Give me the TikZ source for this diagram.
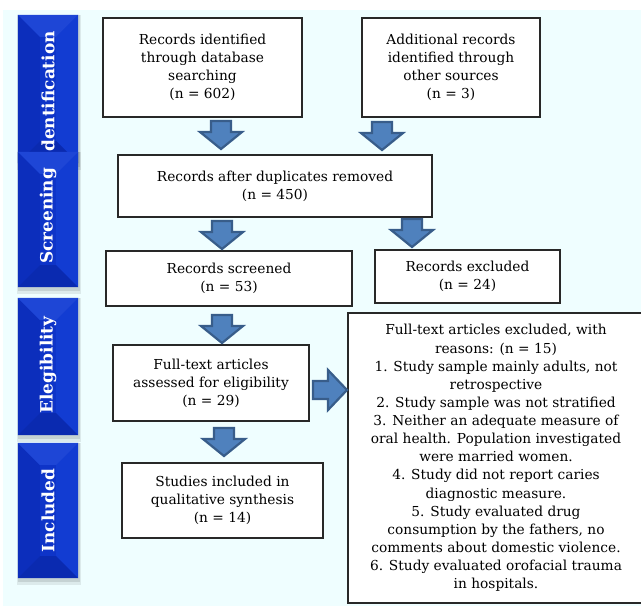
\documentclass[tikz,border=0pt]{standalone}
\usepackage{fontspec}
\setmainfont{DejaVu Serif}
\usetikzlibrary{calc}
\definecolor{bgcol}{RGB}{239,254,255}
\definecolor{phbase}{RGB}{14,52,200}
\definecolor{phtop}{RGB}{30,70,214}
\definecolor{phleft}{RGB}{12,46,188}
\definecolor{phright}{RGB}{18,60,210}
\definecolor{phbot}{RGB}{10,42,176}
\definecolor{arrfill}{RGB}{79,129,189}
\definecolor{arrline}{RGB}{56,93,138}
\definecolor{boxline}{RGB}{40,40,40}
\newcommand\boxfont{\fontsize{13.8}{18.2}\selectfont}
\newcommand\phasefont{\fontsize{17}{19}\selectfont\bfseries}
\newcommand\bevelbox[1]{%
  \fill[black,opacity=0.08] ([xshift=-1bp,yshift=-7bp]#1.south west) rectangle ([xshift=3bp]#1.north east);
  \fill[black,opacity=0.10] ([yshift=-4bp]#1.south west) rectangle ([xshift=2bp]#1.north east);
  \fill[phbase] (#1.south west) rectangle (#1.north east);
  \fill[phleft] (#1.north west) -- ([xshift=22bp,yshift=-22bp]#1.north west) -- ([xshift=22bp,yshift=22bp]#1.south west) -- (#1.south west) -- cycle;
  \fill[phright] (#1.north east) -- ([xshift=-22bp,yshift=-22bp]#1.north east) -- ([xshift=-22bp,yshift=22bp]#1.south east) -- (#1.south east) -- cycle;
  \fill[phtop] (#1.north west) -- (#1.north east) -- ([xshift=-22bp,yshift=-22bp]#1.north east) -- ([xshift=22bp,yshift=-22bp]#1.north west) -- cycle;
  \fill[phbot] (#1.south west) -- (#1.south east) -- ([xshift=-22bp,yshift=22bp]#1.south east) -- ([xshift=22bp,yshift=22bp]#1.south west) -- cycle;
}
\tikzset{
  phase/.style={rectangle, minimum width=60bp, inner sep=0pt, draw=none},
  phasetxt/.style={text=white, font=\phasefont, rotate=90, inner sep=0pt},
  box/.style={draw=boxline, line width=1.2bp, fill=white, align=center, font=\boxfont, inner sep=0pt},
  blockarrow/.style={fill=arrfill, draw=arrline, line width=2.2bp, line join=miter},
  darr/.pic={\path[blockarrow] (-10,0) -- (10,0) -- (10,11) -- (21,11) -- (0,28) -- (-21,11) -- (-10,11) -- cycle;},
  rarr/.pic={\path[blockarrow] (0,-9) -- (15,-9) -- (15,-20) -- (34,0) -- (15,20) -- (15,9) -- (0,9) -- cycle;}
}
\begin{document}
\begin{tikzpicture}[x=1bp,y=-1bp]
\useasboundingbox (0,0) rectangle (641,606);
\fill[bgcol] (3,10) rectangle (641,606);

% phase labels
\node[phase, minimum height=148bp] (ident) at (48,89) {};
\bevelbox{ident}
\node[phasetxt, anchor=west] (identtxt) at (48,152) {dentification};
\node[phase, minimum height=135bp] (screen) at (48,219.5) {};
\bevelbox{screen}
\node[phasetxt] (screentxt) at (48,216) {Screening};
\node[phase, minimum height=137bp] (elig) at (48,366.5) {};
\bevelbox{elig}
\node[phasetxt] (eligtxt) at (48,365) {Elegibility};
\node[phase, minimum height=135bp] (incl) at (48,510.5) {};
\bevelbox{incl}
\node[phasetxt] (incltxt) at (48,510.5) {Included};

% boxes
\node[box, minimum width=199bp, minimum height=99bp] (A) at (202.5,67.5)
  {Records identified\\through database\\searching\\(n = 602)};
\node[box, minimum width=178bp, minimum height=99bp] (B) at (451,67.5)
  {Additional records\\identified through\\other sources\\(n = 3)};
\node[box, minimum width=314bp, minimum height=62bp] (C) at (275,186)
  {Records after duplicates removed\\(n = 450)};
\node[box, minimum width=246bp, minimum height=55bp] (D) at (229,278.5)
  {Records screened\\(n = 53)};
\node[box, minimum width=185bp, minimum height=53bp] (E) at (467.5,276.5)
  {Records excluded\\(n = 24)};
\node[box, minimum width=196bp, minimum height=76bp] (F) at (211,383)
  {Full-text articles\\assessed for eligibility\\(n = 29)};
\node[box, minimum width=201bp, minimum height=75bp] (G) at (222.5,500.5)
  {Studies included in\\qualitative synthesis\\(n = 14)};
\node[box, minimum width=296bp, minimum height=290bp] (H) at (496,458)
  {Full-text articles excluded, with\\
   reasons: (n = 15)\\
   1. Study sample mainly adults, not\\
   retrospective\\
   2. Study sample was not stratified\\
   3. Neither an adequate measure of\\
   oral health. Population investigated\\
   were married women.\\
   4. Study did not report caries\\
   diagnostic measure.\\
   5. Study evaluated drug\\
   consumption by the fathers, no\\
   comments about domestic violence.\\
   6. Study evaluated orofacial trauma\\
   in hospitals.};

% block arrows
\pic (a1) at (221,121) {darr};
\pic (a2) at (382,122) {darr};
\pic (a3) at (222,221) {darr};
\pic (a4) at (412,219) {darr};
\pic (a5) at (222,315) {darr};
\pic (a6) at (313,390) {rarr};
\pic (a7) at (224,428) {darr};
\end{tikzpicture}
\end{document}
